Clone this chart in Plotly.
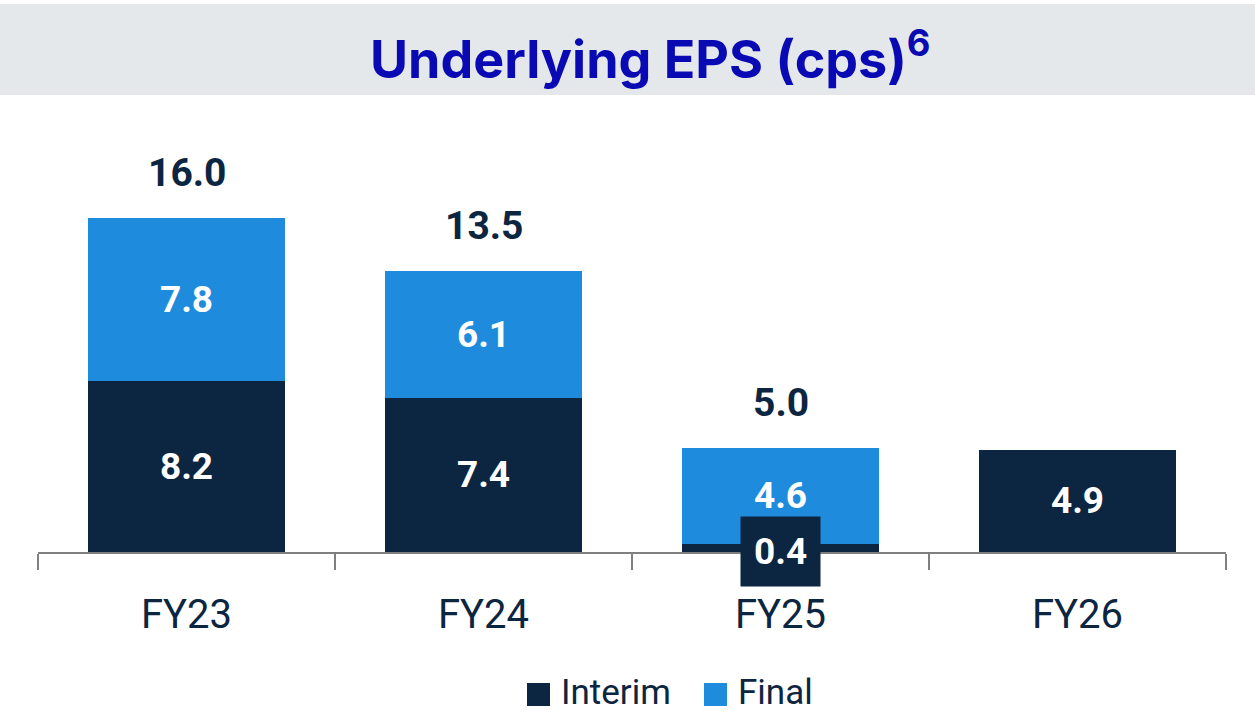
import plotly.graph_objects as go

categories = ["FY23", "FY24", "FY25", "FY26"]
interim = [8.2, 7.4, 0.4, 4.9]
final = [7.8, 6.1, 4.6, None]
totals = [16.0, 13.5, 5.0, None]
legend_names = ["Interim", "Final"]
title_text = "Underlying EPS (cps)"
title_sup = "6"

NAVY = "#0c2541"
BLUE = "#1f8bdd"
FONT = "Roboto"

interim_text = [f"{v:.1f}" for v in interim]
interim_pos = ["inside" if v >= 1 else "none" for v in interim]
final_text = [f"{v:.1f}" if v is not None else "-" for v in final]
final_pos = ["inside" if v is not None else "none" for v in final]

fig = go.Figure()
fig.add_trace(go.Bar(
    x=categories, y=interim, name=legend_names[0], marker_color=NAVY,
    marker_line_width=0, text=interim_text, textposition=interim_pos,
    insidetextanchor="middle", textangle=0,
    textfont=dict(color="white", size=37, family=FONT, weight="bold"),
    showlegend=False,
))
fig.add_trace(go.Bar(
    x=categories, y=final, name=legend_names[1],
    marker_color=BLUE, marker_line_width=0, text=final_text, textposition=final_pos,
    insidetextanchor="middle", textangle=0,
    textfont=dict(color="white", size=37, family=FONT, weight="bold"),
    showlegend=False,
))

annotations = []
for c, t in zip(categories, totals):
    if t is not None:
        annotations.append(dict(
            x=c, y=t, xref="x", yref="y", text=f"{t:.1f}", showarrow=False,
            yanchor="bottom", yshift=20,
            font=dict(color=NAVY, size=39, family=FONT, weight="bold"),
        ))
for c, v in zip(categories, interim):
    if v < 1:
        annotations.append(dict(
            x=c, y=v / 2, xref="x", yref="y", text=f"{v:.1f}", showarrow=False,
            bgcolor=NAVY, borderpad=13, yshift=-4,
            font=dict(color="white", size=37, family=FONT, weight="bold"),
        ))

annotations.append(dict(
    x=(650 - 38) / 1188, y=(552 - 56) / 442, xref="paper", yref="paper",
    xanchor="center", yanchor="middle",
    text=f"<b>{title_text}<sup>{title_sup}</sup></b>", showarrow=False,
    font=dict(color="#0a0ab4", size=52, family="Inter"),
))

shapes = [
    dict(type="rect", xref="paper", yref="paper", x0=-0.04, x1=1.03,
         y0=(552 - 95) / 442, y1=(552 - 4) / 442, fillcolor="#e5e8eb",
         line_width=0, layer="below"),
]
leg_items = [(legend_names[0], NAVY, 527), (legend_names[1], BLUE, 704)]
for name, col, px in leg_items:
    shapes.append(dict(type="rect", xref="paper", yref="paper",
                       x0=(px - 38) / 1188, x1=(px + 23 - 38) / 1188,
                       y0=(552 - 706) / 442, y1=(552 - 683) / 442,
                       fillcolor=col, line_width=0))
    annotations.append(dict(
        x=(px + 32 - 38) / 1188, y=(552 - 692) / 442, xref="paper", yref="paper",
        text=name, showarrow=False, xanchor="left", yanchor="middle",
        font=dict(color=NAVY, size=35, family=FONT),
    ))

fig.update_layout(
    barmode="stack",
    bargap=0.337,
    width=1255, height=714,
    margin=dict(l=38, r=29, t=110, b=162),
    plot_bgcolor="white", paper_bgcolor="white",
    annotations=annotations,
    shapes=shapes,
    showlegend=False,
)
fig.update_xaxes(
    showline=True, linecolor="#7f7f7f", linewidth=2,
    ticks="outside", tickson="boundaries", ticklen=16, tickwidth=2, tickcolor="#7f7f7f",
    tickfont=dict(color=NAVY, size=40, family=FONT),
    ticklabelstandoff=26,
    showgrid=False, zeroline=False,
)
fig.update_yaxes(range=[0, 21.2], visible=False, showgrid=False, zeroline=False)

fig.write_html("out.html", config={"displayModeBar": False},
               post_script="document.body.style.margin='0';document.body.style.overflow='hidden';")
